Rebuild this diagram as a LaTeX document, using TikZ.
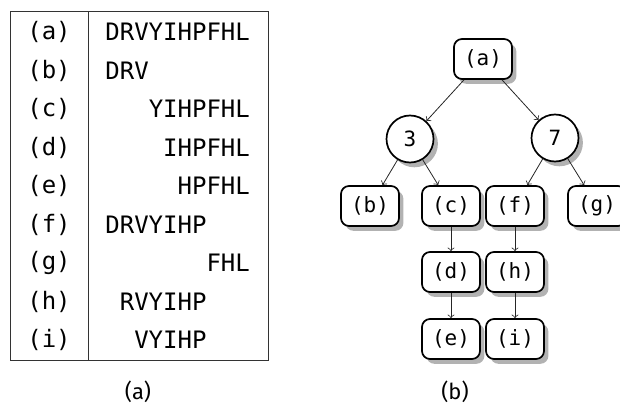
\documentclass[tikz,border=0pt]{standalone}
\usepackage{fontspec}
\setmainfont{Fira Sans}
\setmonofont{DejaVu Sans Mono}
\usetikzlibrary{shadows}

\tikzset{
  rowtxt/.style={font=\ttfamily\fontsize{12}{14}\selectfont,inner sep=0pt},
  box/.style={draw,line width=0.85pt,rounded corners=4pt,fill=white,minimum width=29pt,minimum height=20pt,inner sep=0pt,
    font=\ttfamily\fontsize{10.5}{12}\selectfont,drop shadow={shadow xshift=2.2pt,shadow yshift=-2.4pt,fill=black!30,opacity=1}},
  circ/.style={box,circle,minimum size=23.5pt},
  edge/.style={->,line width=0.4pt,black!85},
  subcap/.style={font=\fontsize{11}{13}\selectfont}
}

\begin{document}
\begin{tikzpicture}[x=0.5pt,y=-0.5pt]
  \useasboundingbox (0,0) rectangle (620,406);
  % left: the table of substrings
  \draw[line width=0.5pt,black!80] (10,12) rectangle (268,360);
  \draw[line width=0.5pt,black!80] (88,12) -- (88,360);
  \foreach \lab/\pre/\str [count=\i] in {a//DRVYIHPFHL,b//DRV,c/DRV/YIHPFHL,d/DRVY/IHPFHL,e/DRVYI/HPFHL,
      f//DRVYIHP,g/DRVYIHP/FHL,h/D/RVYIHP,i/DR/VYIHP} {
    \node[rowtxt] (l\lab) at (49,{32+(\i-1)*38.5}) {(\lab)};
    \node[rowtxt,anchor=west] (s\lab) at (105,{32+(\i-1)*38.5}) {\phantom{\pre}\str};
  }
  \node[subcap] (capa) at (138,392) {(a)};

  % right: the tree
  \node[box] (a) at (483,59) {(a)};
  \node[circ] (n3) at (410,139) {3};
  \node[circ] (n7) at (555,138) {7};
  \node[box] (b) at (370,206) {(b)};
  \node[box] (c) at (451,206) {(c)};
  \node[box] (f) at (515,206) {(f)};
  \node[box] (g) at (597,206) {(g)};
  \node[box] (d) at (451,272) {(d)};
  \node[box] (h) at (515,272) {(h)};
  \node[box] (e) at (451,339) {(e)};
  \node[box] (i) at (515,339) {(i)};
  \draw[edge] (a) -- (n3); \draw[edge] (a) -- (n7);
  \draw[edge] (n3) -- (b); \draw[edge] (n3) -- (c);
  \draw[edge] (n7) -- (f); \draw[edge] (n7) -- (g);
  \draw[edge] (c) -- (d); \draw[edge] (d) -- (e);
  \draw[edge] (f) -- (h); \draw[edge] (h) -- (i);
  \node[subcap] (capb) at (455,392) {(b)};
\end{tikzpicture}
\end{document}
